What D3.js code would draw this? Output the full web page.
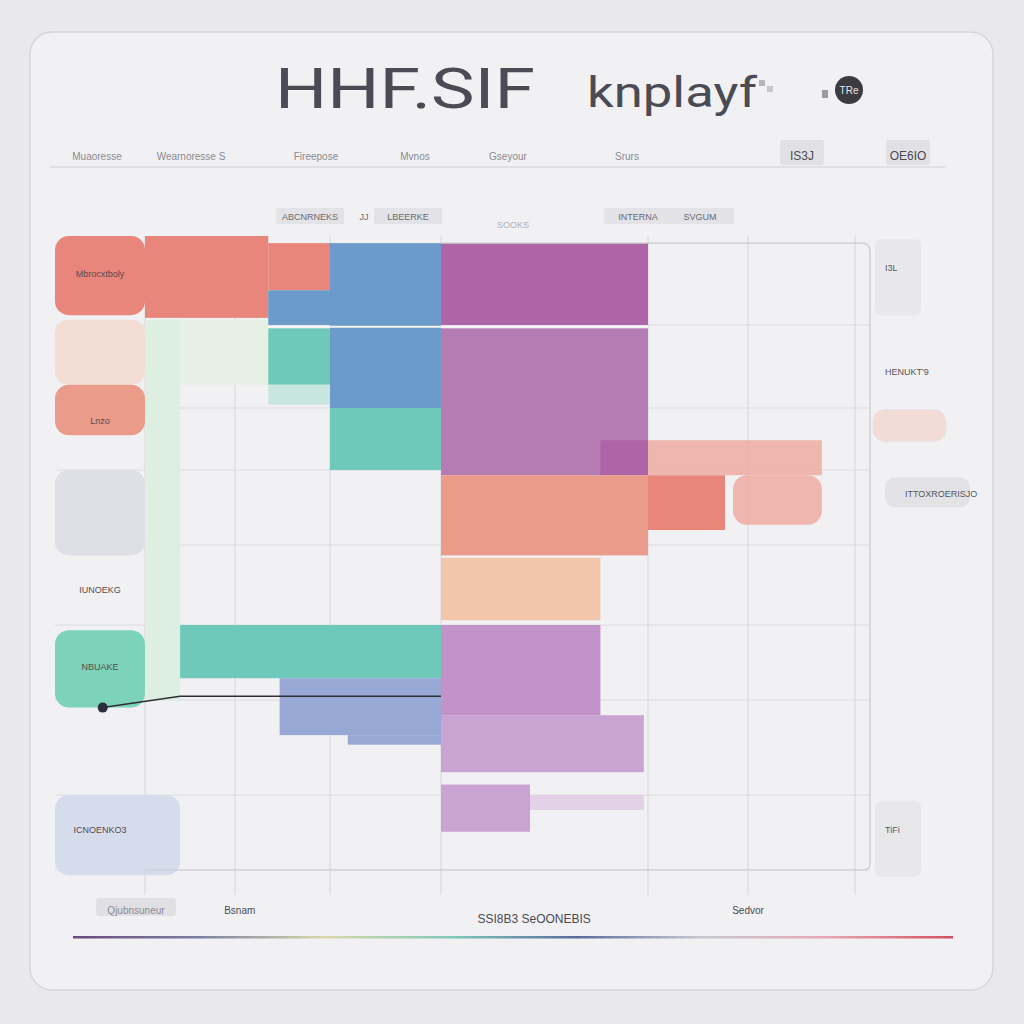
<!DOCTYPE html>
<html lang="en">
<head>
<meta charset="utf-8">
<title>HHF.SIF knplayf</title>
<script src="https://cdn.jsdelivr.net/npm/d3@7"></script>
<style>
  body { margin: 0; background: #e9e9ec; }
  svg { display: block; font-family: "Liberation Sans", Arial, sans-serif; }
</style>
</head>
<body>
<div id="chart"></div>
<script>
// column / row labels
var headerLabels = ["Muaoresse", "Wearnoresse S", "Fireepose", "Mvnos", "Gseyour", "Srurs", "IS3J", "OE6IO"];
var legendLabels = ["ABCNRNEKS", "JJ", "LBEERKE", "SOOKS", "INTERNA", "SVGUM"];
var rowLabels = ["Mbrocxtboly", "Lnzo", "IUNOEKG", "NBUAKE", "ICNOENKO3"];
var rowLabelPos = [0.42, 2.2, 4.55, 5.55, 7.45];
var sideLabels = ["I3L", "HENUKT'9", "", "ITTOXROERISJO", "TiFi"];
var sideLabelPos = [0.35, 1.55, 2.25, 3.3, 7.45];
var axisLabels = ["Qjubnsuneur", "Bsnam", "SSI8B3 SeOONEBIS", "Sedvor"];
var axisLabelPos = [0.9, 2.05, 4.45, 6.0];

// blocks: series key, column span, row span (in grid units)
var blockSeries = ["mint", "mintPale", "blush", "gray", "ice", "salmon",
  "red", "red", "red", "blue", "blue", "purple", "purpleMid", "teal", "tealPale",
  "teal", "purpleMid", "purple", "redSoft", "redSoft", "red", "salmon", "peach",
  "tealLabel", "teal", "purpleLight", "lilac", "periwinkle", "periwinkle", "lilac", "lilacPale"];
var blockX0 = [1, 1.39, 0, 0, 0, 0,
  0, 1, 2.35, 3, 2.35, 4, 4, 2.35, 2.35,
  3, 4, 4.77, 5, 5.85, 5, 4, 4,
  0, 1.39, 4, 4, 2.47, 3.16, 4, 4.43];
var blockX1 = [1.39, 2.35, 1, 1, 1.39, 1,
  1, 2.35, 3, 4, 3, 5, 5, 3, 3,
  4, 5, 5, 6.69, 6.69, 5.77, 5, 4.77,
  1, 4, 4.77, 4.98, 4, 4, 4.43, 4.98];
var blockY0 = [0.94, 0.94, 0.94, 3, 7, 1.72,
  0, 0, 0.08, 0.08, 0.61, 0.08, 1.04, 1.04, 1.72,
  2, 2, 2.52, 2.52, 3.07, 3.07, 3.07, 4.16,
  5.07, 5, 5, 6.16, 5.71, 6.37, 6.89, 7.0];
var blockY1 = [6, 1.72, 1.72, 4.13, 8.07, 2.44,
  0.89, 0.92, 0.61, 2, 1, 1, 2, 1.72, 1.96,
  3, 3.07, 3.07, 3.07, 3.73, 3.8, 4.13, 4.94,
  6.08, 5.71, 6.16, 6.76, 6.37, 6.47, 7.49, 7.2];

// connector line
var lineX = [0.53, 1.39, 4];
var lineY = [6.08, 5.95, 5.95];

var W = 1024, H = 1024;
var svg = d3.select("#chart").append("svg").attr("width", W).attr("height", H);

// card
svg.append("rect").attr("x", 30).attr("y", 32).attr("width", 963).attr("height", 958)
   .attr("rx", 22).attr("fill", "#f1f1f3").attr("stroke", "#d6d6db").attr("stroke-width", 1.5);

// title
svg.append("text").attr("x", 275).attr("y", 108).text("HHF.SIF")
   .attr("font-family", "Roboto, sans-serif")
   .attr("font-size", 55).attr("font-weight", 400).attr("fill", "#4b4b55")
   .attr("textLength", 260).attr("lengthAdjust", "spacingAndGlyphs");
svg.append("text").attr("x", 587).attr("y", 107).text("knplayf")
   .attr("font-family", "Roboto, sans-serif")
   .attr("font-size", 42).attr("font-weight", 400).attr("fill", "#4b4b55")
   .attr("textLength", 170).attr("lengthAdjust", "spacingAndGlyphs");
svg.append("rect").attr("x", 759).attr("y", 80).attr("width", 6).attr("height", 6).attr("fill", "#b5b5bb");
svg.append("rect").attr("x", 767).attr("y", 86).attr("width", 6).attr("height", 6).attr("fill", "#c8c8cc");
svg.append("rect").attr("x", 822).attr("y", 90).attr("width", 6).attr("height", 8).attr("fill", "#9a9aa0");
svg.append("circle").attr("cx", 849).attr("cy", 90).attr("r", 14).attr("fill", "#3b3b42");
svg.append("text").attr("x", 849).attr("y", 94).attr("text-anchor", "middle")
   .attr("font-size", 10).attr("fill", "#e6e6e6").text("TRe");

// header row
var headerPos = [97, 191, 316, 415, 508, 627, 802, 908];
svg.append("line").attr("x1", 50).attr("x2", 945).attr("y1", 167).attr("y2", 167)
   .attr("stroke", "#cfcfd4");
headerLabels.forEach(function(d, i) {
  if (i >= 6) {
    svg.append("rect").attr("x", headerPos[i] - 22).attr("y", 140).attr("width", 44).attr("height", 25)
       .attr("rx", 3).attr("fill", "#e1e1e5");
  }
  svg.append("text").attr("x", headerPos[i]).attr("y", 160).attr("text-anchor", "middle")
     .attr("font-size", i >= 6 ? 12 : 10).attr("fill", i >= 6 ? "#4a4a52" : "#8a8a92").text(d);
});

// legend row
var legendPos = [310, 364, 408, 513, 638, 700];
var legendBoxed = [true, false, true, false, true, true];
legendLabels.forEach(function(d, i) {
  var yy = i == 3 ? 228 : 220;
  if (legendBoxed[i]) {
    svg.append("rect").attr("x", legendPos[i] - 34).attr("y", 208).attr("width", 68).attr("height", 16)
       .attr("fill", "#e3e3e7");
  }
  svg.append("text").attr("x", legendPos[i]).attr("y", yy).attr("text-anchor", "middle")
     .attr("font-size", 9).attr("fill", i == 3 ? "#b0b0b6" : "#6a6a72").text(d);
});

// scales (polylinear over uneven grid columns / rows)
var x = d3.scaleLinear().domain([0, 1, 2, 3, 4, 5, 6, 7])
          .range([55, 145, 235, 330, 441, 648, 748, 855]);
var y = d3.scaleLinear().domain([0, 1, 2, 3, 4, 5, 6, 7, 8])
          .range([236, 325, 408, 470, 545, 625, 700, 795, 870]);
var color = d3.scaleOrdinal()
  .domain(["red", "redSoft", "blue", "purple", "purpleMid", "purpleLight", "lilac", "lilacPale",
           "teal", "tealPale", "tealLabel", "salmon", "peach", "periwinkle", "mint", "mintPale",
           "blush", "gray", "ice"])
  .range(["#e8867b", "#efa79e", "#6b9acb", "#ad65a7", "#b57cb3", "#c293c8", "#c9a3d1", "#e2d1e7",
          "#6fc9bb", "#c9e6de", "#7dd3b9", "#eb9b89", "#f2c6aa", "#98a8d4", "#dcefe0", "#e7f0e4",
          "#f3ddd5", "#dfe0e5", "#d5ddec"]);

// grid
var g = svg.append("g");
g.selectAll("line.h").data(d3.range(1, 9)).enter().append("line")
  .attr("x1", x(0)).attr("x2", 870).attr("y1", function(d) { return y(d); }).attr("y2", function(d) { return y(d); })
  .attr("stroke", "#dcdce0");
g.selectAll("line.v").data(d3.range(1, 8)).enter().append("line")
  .attr("x1", function(d) { return x(d); }).attr("x2", function(d) { return x(d); })
  .attr("y1", y(0)).attr("y2", 895)
  .attr("stroke", "#d6d6db");

// blocks
var blocks = blockSeries.map(function(s, i) {
  return { s: s, x0: blockX0[i], x1: blockX1[i], y0: blockY0[i], y1: blockY1[i] };
});
g.selectAll("rect.block").data(blocks).enter().append("rect")
  .attr("class", "block")
  .attr("x", function(d) { return x(d.x0); })
  .attr("y", function(d) { return y(d.y0); })
  .attr("width", function(d) { return x(d.x1) - x(d.x0); })
  .attr("height", function(d) { return y(d.y1) - y(d.y0); })
  .attr("rx", function(d) { return d.x0 == 0 || d.s == "redSoft" && d.y0 > 3 ? 14 : 0; })
  .attr("fill", function(d) { return color(d.s); })
  .attr("opacity", function(d) { return d.s == "redSoft" ? 0.8 : 1; });

// white separator across top row
g.append("line").attr("x1", x(2.35)).attr("x2", x(5)).attr("y1", y(1.02)).attr("y2", y(1.02))
  .attr("stroke", "#f4f4f6").attr("stroke-width", 2);

// plot frame
g.append("path")
  .attr("d", "M" + x(4) + "," + y(0.08) + "H862q8,0 8,8V" + (y(8) - 6) + "q0,6 -8,6H" + x(1))
  .attr("fill", "none").attr("stroke", "#c9c9cf").attr("stroke-width", 1.2);

// connector line
var pts = lineX.map(function(d, i) { return [x(d), y(lineY[i])]; });
g.append("path").attr("d", d3.line()(pts)).attr("fill", "none").attr("stroke", "#2e2e36").attr("stroke-width", 1.5);
g.append("circle").attr("cx", pts[0][0]).attr("cy", pts[0][1]).attr("r", 5).attr("fill", "#2b2f3d");

// row labels
rowLabels.forEach(function(d, i) {
  g.append("text").attr("x", 100).attr("y", y(rowLabelPos[i]) + 4).attr("text-anchor", "middle")
    .attr("font-size", 9).attr("fill", "#5a4a4e").text(d);
});

// side labels
sideLabels.forEach(function(d, i) {
  var yy = y(sideLabelPos[i]);
  if (i == 0 || i == 4) {
    g.append("rect").attr("x", 875).attr("y", yy - 28).attr("width", 46).attr("height", 76)
      .attr("rx", 6).attr("fill", "#e8e8eb");
  }
  if (i == 2) {
    g.append("rect").attr("x", 873).attr("y", yy - 14).attr("width", 73).attr("height", 32)
      .attr("rx", 12).attr("fill", "#f3dcd6").attr("stroke", "#e4e4e8");
  }
  if (i == 3) {
    g.append("rect").attr("x", 885).attr("y", yy - 15).attr("width", 85).attr("height", 30)
      .attr("rx", 10).attr("fill", "#e3e3e6");
  }
  if (d) {
    g.append("text").attr("x", i == 3 ? 905 : 885).attr("y", yy + 4)
      .attr("font-size", 9).attr("fill", "#55555d").text(d);
  }
});

// bottom axis labels
axisLabels.forEach(function(d, i) {
  if (i == 0) {
    svg.append("rect").attr("x", x(axisLabelPos[i]) - 40).attr("y", 898).attr("width", 80).attr("height", 18)
      .attr("rx", 3).attr("fill", "#e0e0e4");
  }
  svg.append("text").attr("x", x(axisLabelPos[i])).attr("y", i == 2 ? 923 : 914).attr("text-anchor", "middle")
    .attr("font-size", i == 2 ? 12 : 10).attr("fill", i == 0 ? "#8a8a92" : "#4a4a52").text(d);
});

// gradient rule
var grad = svg.append("defs").append("linearGradient").attr("id", "rule");
var stops = ["#6b4a7c", "#7b7fa0", "#d8d8a8", "#7fcab8", "#5a6a9c", "#c8c8d0", "#e6a6b4", "#d2505c"];
stops.forEach(function(c, i) {
  grad.append("stop").attr("offset", i / (stops.length - 1)).attr("stop-color", c);
});
svg.append("rect").attr("x", 73).attr("y", 936).attr("width", 880).attr("height", 2.5).attr("fill", "url(#rule)");
</script>
</body>
</html>
